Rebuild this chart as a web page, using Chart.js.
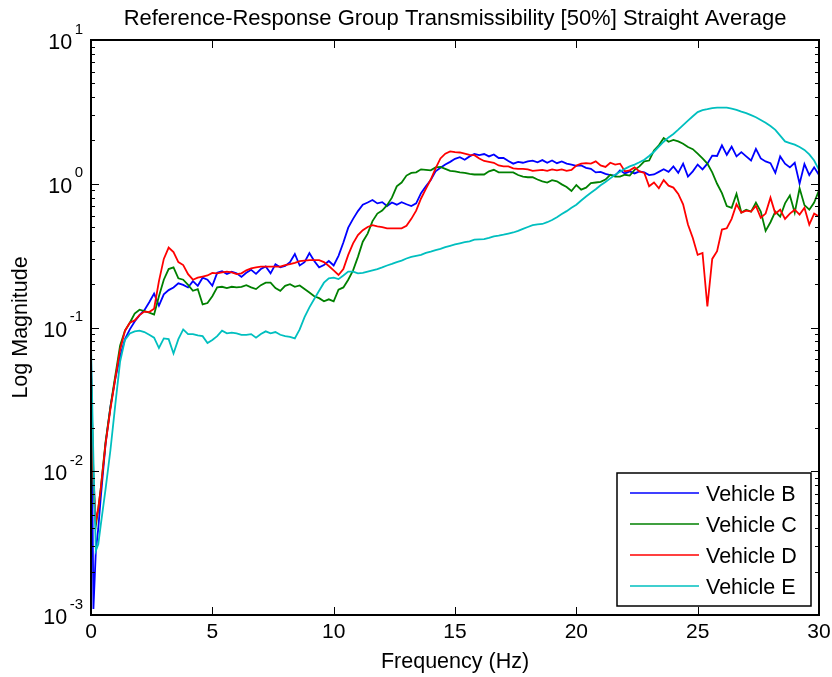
<!DOCTYPE html>
<html>
<head>
<meta charset="utf-8">
<title>Reference-Response Group Transmissibility</title>
<script src="https://cdn.jsdelivr.net/npm/chart.js@4.4.1/dist/chart.umd.min.js"></script>
<style>
  html, body { margin: 0; padding: 0; background: #fff; }
  #wrap { width: 832px; height: 677px; }
</style>
</head>
<body>
<div id="wrap"><canvas id="transmissibility-chart" width="832" height="677"></canvas></div>
<script>
// frequency lines (Hz)
const freq = [
    0, 0.1, 0.2, 0.3, 0.4, 0.6, 0.8,
    1, 1.2, 1.4, 1.6, 1.8,
    2, 2.2, 2.4, 2.6, 2.8,
    3, 3.2, 3.4, 3.6, 3.8,
    4, 4.2, 4.4, 4.6, 4.8,
    5, 5.2, 5.4, 5.6, 5.8,
    6, 6.2, 6.4, 6.6, 6.8,
    7, 7.2, 7.4, 7.6, 7.8,
    8, 8.2, 8.4, 8.6, 8.8,
    9, 9.2, 9.4, 9.6, 9.8,
    10, 10.2, 10.4, 10.6, 10.8,
    11, 11.2, 11.4, 11.6, 11.8,
    12, 12.2, 12.4, 12.6, 12.8,
    13, 13.2, 13.4, 13.6, 13.8,
    14, 14.2, 14.4, 14.6, 14.8,
    15, 15.2, 15.4, 15.6, 15.8,
    16, 16.2, 16.4, 16.6, 16.8,
    17, 17.2, 17.4, 17.6, 17.8,
    18, 18.2, 18.4, 18.6, 18.8,
    19, 19.2, 19.4, 19.6, 19.8,
    20, 20.2, 20.4, 20.6, 20.8,
    21, 21.2, 21.4, 21.6, 21.8,
    22, 22.2, 22.4, 22.6, 22.8,
    23, 23.2, 23.4, 23.6, 23.8,
    24, 24.2, 24.4, 24.6, 24.8,
    25, 25.2, 25.4, 25.6, 25.8,
    26, 26.2, 26.4, 26.6, 26.8,
    27, 27.2, 27.4, 27.6, 27.8,
    28, 28.2, 28.4, 28.6, 28.8,
    29, 29.2, 29.4, 29.6, 29.8,
    30
];

// transmissibility magnitude per vehicle, one value per frequency line
const vehicleB = [
    0.07, 0.0011, 0.0028, 0.0040, 0.0065, 0.0155, 0.028,
    0.044, 0.063, 0.083, 0.097, 0.110,
    0.122, 0.132, 0.150, 0.172, 0.142,
    0.170, 0.182, 0.190, 0.203, 0.198,
    0.190, 0.210, 0.195, 0.222, 0.215,
    0.195, 0.240, 0.246, 0.236, 0.244,
    0.238, 0.225, 0.240, 0.252, 0.236,
    0.255, 0.266, 0.238, 0.275, 0.262,
    0.268, 0.285, 0.325, 0.270, 0.285,
    0.330, 0.290, 0.262, 0.272, 0.290,
    0.270, 0.315, 0.390, 0.495, 0.570,
    0.645, 0.715, 0.740, 0.770, 0.730,
    0.745, 0.700, 0.740, 0.715, 0.745,
    0.720, 0.700, 0.730, 0.860, 0.960,
    1.06, 1.22, 1.29, 1.36, 1.42,
    1.49, 1.53, 1.47, 1.55, 1.61,
    1.58, 1.61, 1.55, 1.60, 1.51,
    1.51, 1.44, 1.38, 1.42, 1.40,
    1.43, 1.45, 1.41, 1.46, 1.40,
    1.45, 1.39, 1.43, 1.38, 1.36,
    1.33, 1.34, 1.29, 1.27, 1.20,
    1.21, 1.17, 1.15, 1.14, 1.24,
    1.18, 1.22, 1.18, 1.22, 1.20,
    1.15, 1.16, 1.21, 1.26, 1.21,
    1.32, 1.19, 1.38, 1.12, 1.22,
    1.36, 1.26, 1.38, 1.57, 1.56,
    1.85, 1.59, 1.81, 1.55, 1.66,
    1.55, 1.45, 1.75, 1.50, 1.43,
    1.39, 1.19, 1.55, 1.38, 1.30,
    1.40, 1.00, 1.37, 1.15, 1.30,
    1.15
];

const vehicleC = [
    0.05, 0.008, 0.0042, 0.0055, 0.0075, 0.016, 0.028,
    0.046, 0.075, 0.095, 0.108, 0.125,
    0.133, 0.130, 0.127, 0.123, 0.165,
    0.215, 0.255, 0.262, 0.220, 0.215,
    0.198, 0.180, 0.185, 0.145, 0.148,
    0.165, 0.190, 0.192, 0.188, 0.192,
    0.190, 0.192, 0.197, 0.190, 0.185,
    0.197, 0.205, 0.205, 0.188, 0.180,
    0.195, 0.200, 0.192, 0.196, 0.185,
    0.175, 0.165, 0.160, 0.152, 0.157,
    0.152, 0.183, 0.190, 0.215, 0.250,
    0.310, 0.395, 0.450, 0.550, 0.620,
    0.650, 0.710, 0.800, 0.960, 1.02,
    1.14, 1.19, 1.20, 1.26, 1.25,
    1.24, 1.30, 1.31, 1.27, 1.23,
    1.22, 1.20, 1.19, 1.17, 1.16,
    1.16, 1.16, 1.22, 1.25, 1.20,
    1.20, 1.20, 1.20, 1.15, 1.12,
    1.11, 1.11, 1.07, 1.04, 1.02,
    1.06, 1.04, 0.99, 0.95, 0.89,
    0.98, 0.91, 0.94, 1.01, 1.02,
    1.03, 1.07, 1.155, 1.12, 1.12,
    1.155, 1.14, 1.25, 1.32, 1.43,
    1.45, 1.70, 1.85, 2.08, 1.96,
    2.02, 1.97, 1.90, 1.80, 1.74,
    1.62, 1.50, 1.38, 1.20, 1.00,
    0.86, 0.70, 0.68, 0.85, 0.63,
    0.66, 0.64, 0.74, 0.64, 0.47,
    0.54, 0.64, 0.59, 0.73, 0.83,
    0.63, 0.93, 0.71, 0.66, 0.74,
    0.90
];

const vehicleD = [
    0.05, 0.009, 0.0045, 0.0055, 0.0075, 0.0155, 0.027,
    0.044, 0.070, 0.095, 0.108, 0.112,
    0.122, 0.129, 0.128, 0.135, 0.210,
    0.300, 0.360, 0.335, 0.285, 0.272,
    0.235, 0.215, 0.222, 0.226, 0.230,
    0.240, 0.238, 0.242, 0.245, 0.242,
    0.235, 0.238, 0.250, 0.258, 0.262,
    0.265, 0.265, 0.265, 0.265, 0.265,
    0.272, 0.276, 0.282, 0.290, 0.292,
    0.294, 0.294, 0.294, 0.285, 0.268,
    0.250, 0.232, 0.255, 0.320, 0.385,
    0.440, 0.475, 0.500, 0.515, 0.505,
    0.500, 0.490, 0.490, 0.490, 0.490,
    0.510, 0.570, 0.650, 0.790, 0.920,
    1.07, 1.28, 1.50, 1.62, 1.68,
    1.66, 1.65, 1.62, 1.59, 1.58,
    1.50, 1.44, 1.42, 1.40, 1.34,
    1.32, 1.32, 1.28, 1.27, 1.27,
    1.26, 1.23, 1.24, 1.25, 1.23,
    1.26, 1.24, 1.26, 1.23, 1.25,
    1.34, 1.38, 1.39, 1.38, 1.43,
    1.34, 1.31, 1.40, 1.36, 1.38,
    1.22, 1.24, 1.30, 1.22, 1.19,
    0.96, 1.02, 0.93, 1.06, 0.97,
    0.94, 0.85, 0.72, 0.52, 0.42,
    0.32, 0.33, 0.14, 0.30, 0.34,
    0.48, 0.49, 0.57, 0.72, 0.63,
    0.65, 0.64, 0.70, 0.58, 0.62,
    0.80, 0.62, 0.66, 0.57, 0.62,
    0.66, 0.61, 0.68, 0.52, 0.62,
    0.59
];

const vehicleE = [
    0.075, 0.012, 0.0028, 0.0031, 0.0042, 0.0075, 0.014,
    0.029, 0.058, 0.082, 0.091, 0.094,
    0.095, 0.093, 0.089, 0.085, 0.072,
    0.084, 0.083, 0.066, 0.083, 0.097,
    0.090, 0.090, 0.088, 0.087, 0.078,
    0.082, 0.087, 0.095, 0.091, 0.092,
    0.091, 0.089, 0.089, 0.090, 0.085,
    0.090, 0.094, 0.091, 0.093, 0.089,
    0.087, 0.086, 0.084, 0.097, 0.118,
    0.138, 0.158, 0.180, 0.205, 0.220,
    0.222, 0.217, 0.230, 0.245, 0.245,
    0.238, 0.240, 0.245, 0.250, 0.255,
    0.262, 0.270, 0.277, 0.285, 0.292,
    0.302, 0.310, 0.315, 0.320, 0.330,
    0.337, 0.345, 0.352, 0.362, 0.370,
    0.378, 0.385, 0.392, 0.398, 0.408,
    0.410, 0.412, 0.420, 0.430, 0.435,
    0.442, 0.450, 0.458, 0.470, 0.485,
    0.500, 0.515, 0.522, 0.525, 0.540,
    0.560, 0.585, 0.615, 0.645, 0.680,
    0.715, 0.765, 0.815, 0.865, 0.915,
    0.975, 1.03, 1.09, 1.155, 1.21,
    1.27, 1.32, 1.36, 1.41, 1.47,
    1.56, 1.67, 1.81, 1.96, 2.10,
    2.22, 2.38, 2.56, 2.75, 2.95,
    3.15, 3.25, 3.30, 3.36, 3.38,
    3.38, 3.38, 3.33, 3.27, 3.18,
    3.10, 3.00, 2.90, 2.78, 2.66,
    2.52, 2.37, 2.16, 1.97, 1.92,
    1.87, 1.80, 1.72, 1.60, 1.45,
    1.25
];

const seriesNames = ['Vehicle B', 'Vehicle C', 'Vehicle D', 'Vehicle E'];
const seriesColors = ['#0000ff', '#008000', '#ff0000', '#00bfbf'];

// axis ticks: x in Hz, y as powers of ten
const xTicks = [0, 5, 10, 15, 20, 25, 30];
const yExponents = [-3, -2, -1, 0, 1];

const FONT = '"Liberation Sans", Arial, Helvetica, sans-serif';
Chart.defaults.font.family = FONT;
Chart.defaults.color = '#000';

const series = [vehicleB, vehicleC, vehicleD, vehicleE];

const datasets = series.map((values, i) => ({
    label: seriesNames[i],
    data: values.map((v, j) => ({ x: freq[j], y: v })),
    borderColor: seriesColors[i],
    backgroundColor: seriesColors[i],
    borderWidth: 1.8,
    pointRadius: 0,
    tension: 0,
    fill: false,
    order: series.length - i // later vehicles are drawn on top
}));

// plot box with inward ticks on all four sides (log minor ticks on y)
const axesBox = {
    id: 'axesBox',
    afterDatasetsDraw(chart) {
        const { ctx, chartArea: a } = chart;
        const xs = chart.scales.x;
        const ys = chart.scales.y;
        ctx.save();
        ctx.strokeStyle = '#000';
        ctx.lineWidth = 1;
        ctx.beginPath();
        xTicks.forEach(t => {
            const px = Math.round(xs.getPixelForValue(t)) + 0.5;
            ctx.moveTo(px, a.bottom);
            ctx.lineTo(px, a.bottom - 8);
            ctx.moveTo(px, a.top);
            ctx.lineTo(px, a.top + 8);
        });
        yExponents.forEach(e => {
            for (let m = 1; m < 10; m++) {
                const v = m * Math.pow(10, e);
                if (v > ys.max * 1.001) break;
                const py = Math.round(ys.getPixelForValue(v)) + 0.5;
                const len = m === 1 ? 8 : 4;
                ctx.moveTo(a.left, py);
                ctx.lineTo(a.left + len, py);
                ctx.moveTo(a.right, py);
                ctx.lineTo(a.right - len, py);
            }
        });
        ctx.stroke();
        ctx.lineWidth = 2;
        ctx.strokeRect(a.left, a.top, a.right - a.left, a.bottom - a.top);
        ctx.restore();
    }
};

// "10" with a raised exponent for each decade on the y axis
const decadeLabels = {
    id: 'decadeLabels',
    afterDraw(chart) {
        const { ctx } = chart;
        const ys = chart.scales.y;
        const edge = chart.chartArea.left - 8;
        ctx.save();
        ctx.fillStyle = '#000';
        ctx.textBaseline = 'alphabetic';
        yExponents.forEach(e => {
            const py = ys.getPixelForValue(Math.pow(10, e));
            const exp = String(e);
            ctx.font = '15px ' + FONT;
            const w = ctx.measureText(exp).width;
            ctx.textAlign = 'left';
            ctx.fillText(exp, edge - w, py - 6.5);
            ctx.font = '21.5px ' + FONT;
            ctx.textAlign = 'right';
            ctx.fillText('10', edge - w - 2.5, py + 9);
        });
        ctx.restore();
    }
};

// boxed legend in the lower right corner of the plot
const boxedLegend = {
    id: 'boxedLegend',
    afterDraw(chart) {
        const { ctx, chartArea: a } = chart;
        const w = 194, h = 133, rowGap = 31;
        const left = a.right - 8 - w;
        const top = a.bottom - 9 - h;
        ctx.save();
        ctx.fillStyle = '#fff';
        ctx.fillRect(left, top, w, h);
        ctx.strokeStyle = '#000';
        ctx.lineWidth = 1.5;
        ctx.strokeRect(left, top, w, h);
        ctx.font = '21.5px ' + FONT;
        ctx.textAlign = 'left';
        ctx.textBaseline = 'alphabetic';
        chart.data.datasets.forEach((ds, i) => {
            const ry = top + 20 + i * rowGap;
            ctx.strokeStyle = ds.borderColor;
            ctx.lineWidth = 1.5;
            ctx.beginPath();
            ctx.moveTo(left + 13, ry);
            ctx.lineTo(left + 82, ry);
            ctx.stroke();
            ctx.fillStyle = '#000';
            ctx.fillText(ds.label, left + 89, ry + 7.5);
        });
        ctx.restore();
    }
};

const ctx1 = document.getElementById('transmissibility-chart');

new Chart(ctx1, {
    type: 'line',
    data: { datasets: datasets },
    options: {
        responsive: false,
        animation: false,
        events: [],
        layout: { padding: { top: 0, right: 13, bottom: 0, left: 0 } },
        plugins: {
            legend: { display: false },
            tooltip: { enabled: false },
            title: {
                display: true,
                fullSize: false, // centre over the plot area
                text: 'Reference-Response Group Transmissibility [50%] Straight Average',
                font: { size: 22, weight: 'normal', lineHeight: 1.2 },
                color: '#000',
                padding: { top: 6, bottom: 7.6 }
            }
        },
        scales: {
            x: {
                type: 'linear',
                min: 0,
                max: 30,
                grid: { display: false, drawTicks: false },
                border: { display: false },
                ticks: { font: { size: 21 }, padding: 5, maxRotation: 0, autoSkip: false },
                title: {
                    display: true,
                    text: 'Frequency (Hz)',
                    font: { size: 21.5 },
                    padding: { top: 0, bottom: 2 }
                },
                afterBuildTicks: scale => {
                    scale.ticks = xTicks.map(v => ({ value: v }));
                },
                afterFit: scale => {
                    scale.height = 62;
                    scale.paddingLeft = 0;
                    scale.paddingRight = 0;
                }
            },
            y: {
                type: 'logarithmic',
                min: 0.001,
                max: 10,
                grid: { display: false, drawTicks: false },
                border: { display: false },
                ticks: { display: false },
                title: {
                    display: true,
                    text: 'Log Magnitude',
                    font: { size: 21.5 },
                    padding: { top: 8.5, bottom: 0 }
                },
                afterBuildTicks: scale => {
                    scale.ticks = yExponents.map(e => ({ value: Math.pow(10, e) }));
                },
                afterFit: scale => {
                    scale.width = 91;
                }
            }
        }
    },
    plugins: [axesBox, decadeLabels, boxedLegend]
});
</script>
</body>
</html>
